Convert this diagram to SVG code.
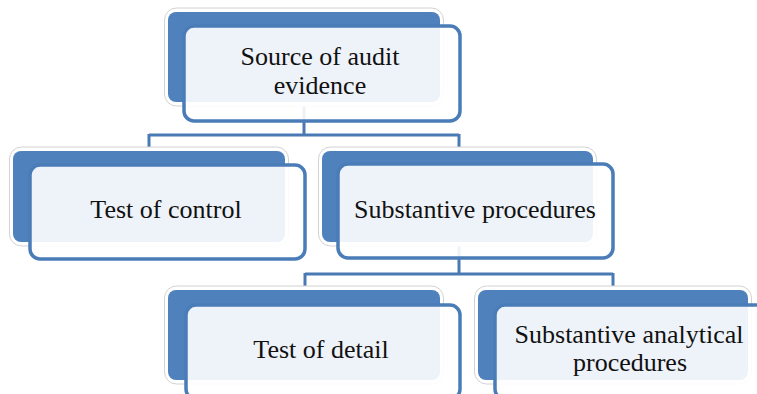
<svg xmlns="http://www.w3.org/2000/svg" width="757" height="394" viewBox="0 0 757 394">
  <style>
    .glow { fill: #ffffff; stroke: #d2d2d2; stroke-width: 1; }
    .back { fill: #4F81BD; }
    .front { fill: #ffffff; fill-opacity: 0.9; stroke: #4A7CB8; stroke-width: 3.5; }
    .conn { fill: none; stroke: #4A7AB4; stroke-width: 3; }
    .label { font-family: "Liberation Serif", "Times New Roman", serif; font-size: 26px; fill: #111111; text-anchor: middle; }
  </style>
  <rect width="757" height="394" fill="#ffffff"/>
  <g id="connectors">
    <path class="conn" d="M304,102 V135 M149,135 H459 M149,134 V152 M459,134 V152"/>
    <path class="conn" d="M459,242 V274 M305,274 H613 M305,273 V291 M613,273 V291"/>
  </g>
  <g id="node-source">
    <rect class="glow" x="164.5" y="8" width="279" height="98" rx="12"/>
    <rect class="back" x="168" y="12" width="272" height="90" rx="8"/>
    <rect class="front" x="184" y="26" width="276" height="95" rx="10"/>
    <text class="label" x="320" y="65">Source of audit</text>
    <text class="label" x="320" y="94">evidence</text>
  </g>
  <g id="node-test-control">
    <rect class="glow" x="9.5" y="147" width="279" height="99" rx="12"/>
    <rect class="back" x="13" y="151" width="272" height="91" rx="8"/>
    <rect class="front" x="30" y="165" width="275" height="94" rx="10"/>
    <text class="label" x="166" y="218">Test of control</text>
  </g>
  <g id="node-substantive">
    <rect class="glow" x="318.5" y="147" width="278" height="99" rx="12"/>
    <rect class="back" x="322" y="151" width="271" height="91" rx="8"/>
    <rect class="front" x="338" y="164" width="275" height="94" rx="10"/>
    <text class="label" x="475" y="218">Substantive procedures</text>
  </g>
  <g id="node-test-detail">
    <rect class="glow" x="164.5" y="286" width="279" height="98" rx="12"/>
    <rect class="back" x="168" y="290" width="272" height="90" rx="8"/>
    <rect class="front" x="186" y="305" width="274" height="94" rx="10"/>
    <text class="label" x="321" y="358">Test of detail</text>
  </g>
  <g id="node-analytical">
    <rect class="glow" x="474.5" y="286" width="277" height="98" rx="12"/>
    <rect class="back" x="478" y="290" width="270" height="90" rx="8"/>
    <rect class="front" x="495" y="305" width="275" height="94" rx="10"/>
    <text class="label" x="629" y="343">Substantive analytical</text>
    <text class="label" x="630" y="371">procedures</text>
  </g>
</svg>
